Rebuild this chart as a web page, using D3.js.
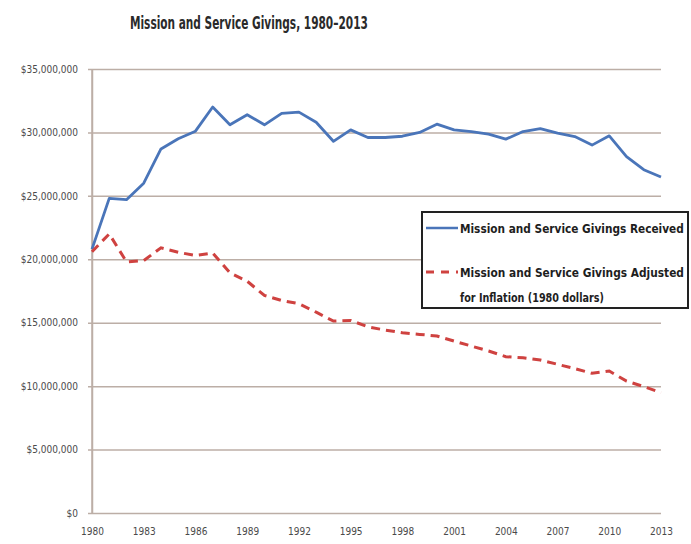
<!DOCTYPE html>
<html>
<head>
<meta charset="utf-8">
<script src="https://cdn.jsdelivr.net/npm/d3@7/dist/d3.min.js"></script>
<style>
  html, body { margin: 0; padding: 0; background: #ffffff; }
  svg { display: block; }
  .cond { font-family: "DejaVu Sans Condensed", "Liberation Sans Narrow", sans-serif; }
</style>
</head>
<body>
<svg id="chart" width="691" height="544"></svg>
<script>
// Annual giving totals, 1980–2013 (dollars)
const years = d3.range(1980, 2014);
const received = [
  20.8, 24.8, 24.7, 26.0, 28.7, 29.5, 30.1, 32.0, 30.6, 31.4,
  30.6, 31.5, 31.6, 30.8, 29.3, 30.2, 29.6, 29.6, 29.7, 30.0,
  30.65, 30.2, 30.07, 29.86, 29.47, 30.07, 30.3, 29.94, 29.67, 29.0,
  29.73, 28.1, 27.06, 26.48
].map(v => v * 1e6);
const adjusted = [
  20.6, 22.0, 19.8, 19.9, 20.9, 20.55, 20.3, 20.5, 18.93, 18.27,
  17.15, 16.75, 16.5, 15.83, 15.13, 15.18, 14.68, 14.42, 14.21, 14.08,
  13.95, 13.55, 13.16, 12.77, 12.32, 12.24, 12.06, 11.72, 11.38, 11.01,
  11.19, 10.4, 9.96, 9.49
].map(v => v * 1e6);
const yTicks = [0, 5e6, 10e6, 15e6, 20e6, 25e6, 30e6, 35e6];
const xTicks = [1980, 1983, 1986, 1989, 1992, 1995, 1998, 2001, 2004, 2007, 2010, 2013];
const seriesNames = [
  ["Mission and Service Givings Received"],
  ["Mission and Service Givings Adjusted", "for Inflation (1980 dollars)"]
];
const titleText = "Mission and Service Givings, 1980\u20132013";

const svg = d3.select("#chart");
const plot = { left: 92, right: 661, top: 69, bottom: 513 };

const x = d3.scaleLinear().domain([1980, 2013]).range([plot.left, plot.right]);
const y = d3.scaleLinear().domain([0, 35e6]).range([plot.bottom, plot.top]);

const gridColor = "#bcaea6";
const labelColor = "#4a4a4a";

// Draws a text line squeezed horizontally to a given width
function narrowText(parent, str, x0, y0, width, size, color, dy) {
  const g = parent.append("g");
  const t = g.append("text")
    .attr("class", "cond")
    .attr("x", 0).attr("y", 0)
    .attr("dy", dy || 0)
    .attr("font-size", size).attr("font-weight", "bold")
    .attr("fill", color)
    .text(str);
  const natural = t.node().getComputedTextLength();
  g.attr("transform", `translate(${x0},${y0}) scale(${width / natural},1)`);
  return g;
}

// Title
narrowText(svg, titleText, 130, 29, 238, 17, "#2a2a2a");

// Horizontal gridlines with small outer ticks
const yAxis = d3.axisLeft(y)
  .tickValues(yTicks)
  .tickSize(-(plot.right - plot.left))
  .tickSizeOuter(0)
  .tickPadding(14)
  .tickFormat(d => "$" + d3.format(",")(d));

const gy = svg.append("g")
  .attr("transform", `translate(${plot.left},0)`)
  .call(yAxis);
gy.select(".domain").attr("stroke", gridColor).attr("stroke-width", 1.5);
gy.selectAll(".tick line").attr("stroke", gridColor).attr("stroke-width", 1.5)
  .attr("x1", -4);
gy.selectAll(".tick text")
  .attr("class", "cond")
  .attr("font-size", 10).attr("fill", labelColor);

// Vertical axis line
svg.append("line")
  .attr("x1", plot.left).attr("x2", plot.left)
  .attr("y1", plot.top).attr("y2", plot.bottom)
  .attr("stroke", gridColor).attr("stroke-width", 1.5);

// Year labels
const xAxis = d3.axisBottom(x)
  .tickValues(xTicks)
  .tickSize(0)
  .tickPadding(15)
  .tickFormat(d3.format("d"));
const gx = svg.append("g")
  .attr("transform", `translate(0,${plot.bottom})`)
  .call(xAxis);
gx.select(".domain").remove();
gx.selectAll(".tick text")
  .attr("class", "cond")
  .attr("font-size", 10).attr("fill", labelColor);

// Series lines
const line = d3.line()
  .x((d, i) => x(years[i]))
  .y(d => y(d))
  .curve(d3.curveLinear);

svg.append("path")
  .datum(received)
  .attr("fill", "none")
  .attr("stroke", "#4a75b9")
  .attr("stroke-width", 2.8)
  .attr("stroke-linejoin", "round")
  .attr("d", line);

svg.append("path")
  .datum(adjusted)
  .attr("fill", "none")
  .attr("stroke", "#cf4240")
  .attr("stroke-width", 3)
  .attr("stroke-dasharray", "9,6")
  .attr("d", line);

// Legend
const lg = svg.append("g");
lg.append("rect")
  .attr("x", 422).attr("y", 212)
  .attr("width", 266).attr("height", 96)
  .attr("fill", "#ffffff")
  .attr("stroke", "#222222").attr("stroke-width", 2);

lg.append("line")
  .attr("x1", 426).attr("x2", 458).attr("y1", 228).attr("y2", 228)
  .attr("stroke", "#4a75b9").attr("stroke-width", 2.5);
lg.append("line")
  .attr("x1", 426).attr("x2", 458).attr("y1", 272).attr("y2", 272)
  .attr("stroke", "#cf4240").attr("stroke-width", 3)
  .attr("stroke-dasharray", "8,7");

const legendRows = [
  { lines: seriesNames[0], widths: [224], y: 228 },
  { lines: seriesNames[1], widths: [224, 144], y: 272 }
];
legendRows.forEach(r => {
  r.lines.forEach((t, i) => {
    narrowText(lg, t, 460, r.y + i * 25, r.widths[i], 13, "#1e1e1e", "0.35em");
  });
});
</script>
</body>
</html>
